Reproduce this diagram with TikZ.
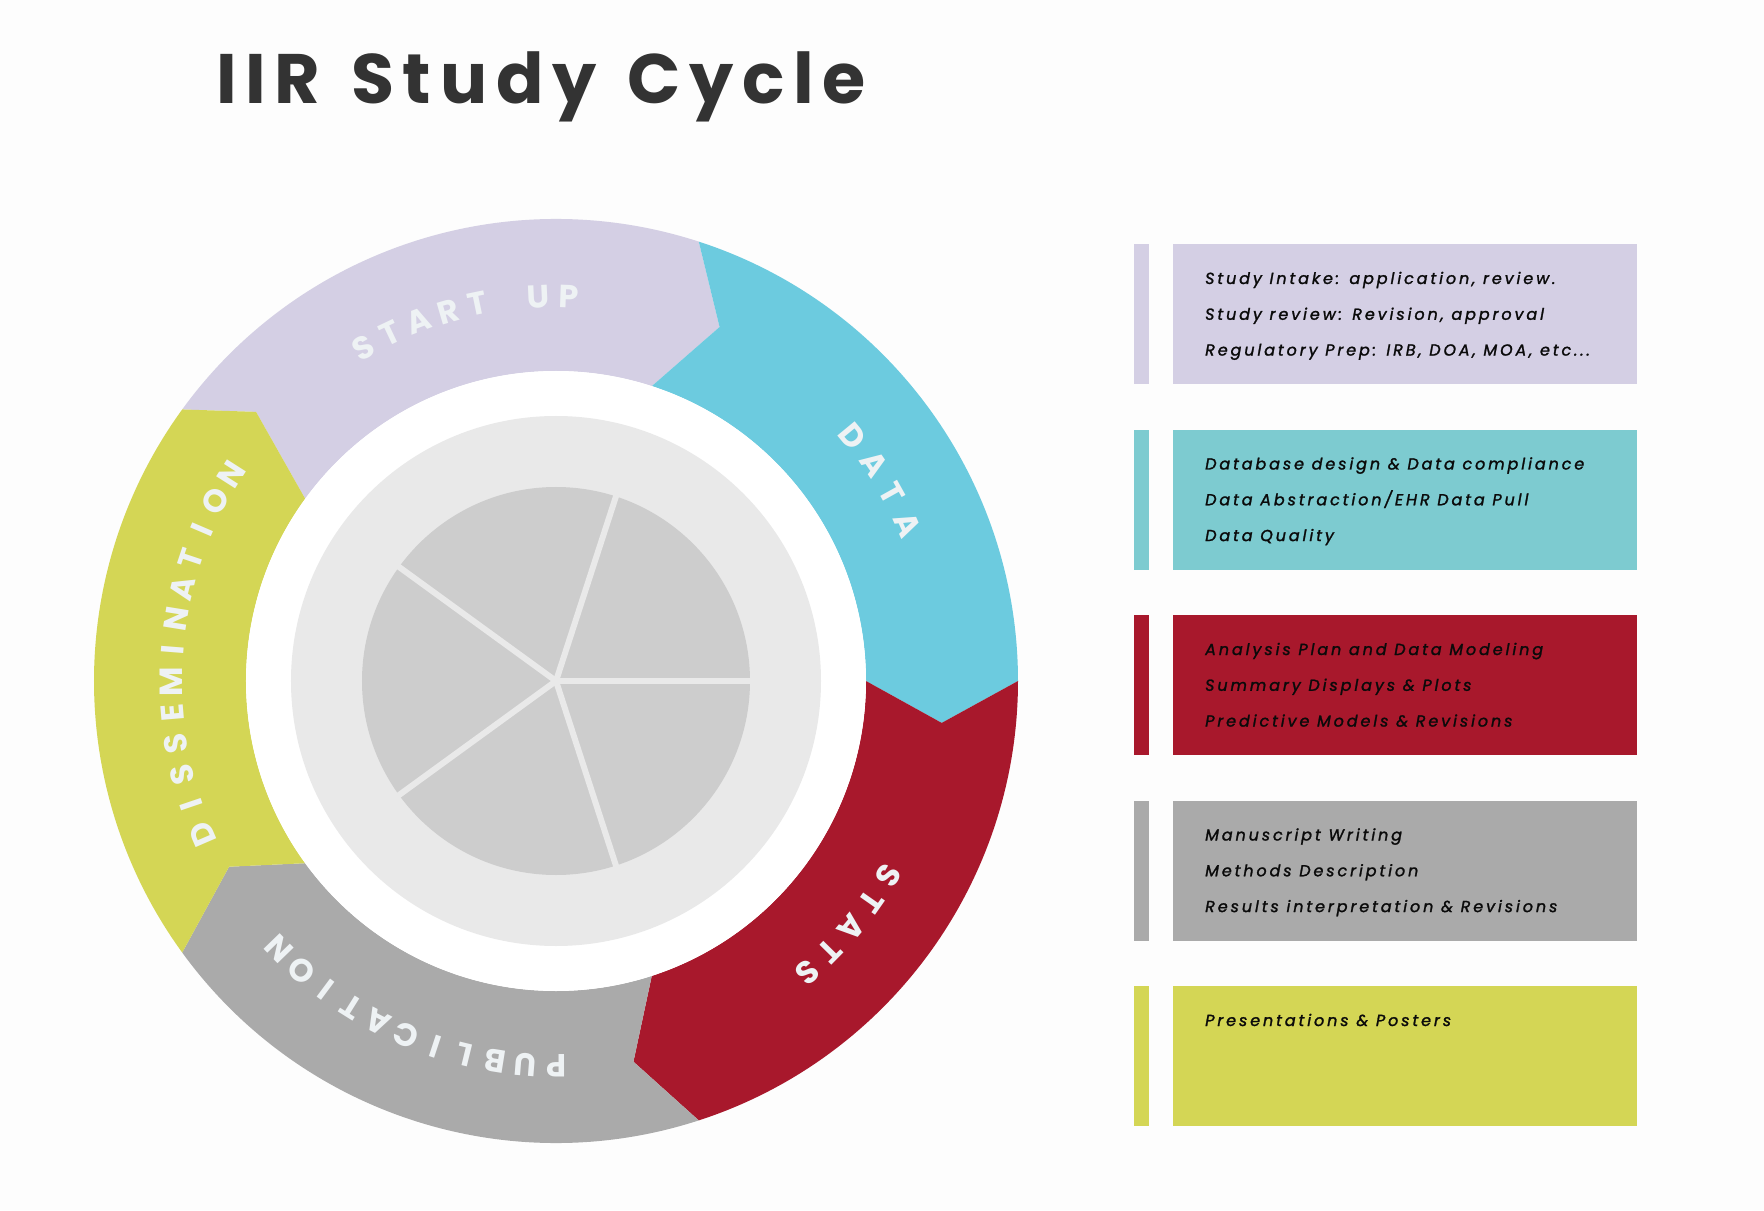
\documentclass[tikz,border=0pt]{standalone}
\usepackage{fontspec}
\setmainfont{Poppins}
\newfontfamily\titlefont[LetterSpace=12.5]{Poppins}
\newfontfamily\itemfont[LetterSpace=18, FakeBold=1.5]{Poppins}
\newfontfamily\ringfont{Poppins}
\usetikzlibrary{positioning}
\definecolor{bgc}{HTML}{FDFDFD}
\definecolor{startc}{HTML}{D4CFE4}
\definecolor{datac}{HTML}{6CCBDF}
\definecolor{datab}{HTML}{7DCBD0}
\definecolor{statsc}{HTML}{A8182C}
\definecolor{pubc}{HTML}{AAAAAA}
\definecolor{dissc}{HTML}{D4D655}
\definecolor{discc}{HTML}{E9E9E9}
\definecolor{piec}{HTML}{CDCDCD}
\definecolor{titlec}{HTML}{333333}
\definecolor{letterc}{HTML}{EEF2F4}
\definecolor{itemc}{HTML}{0A0A0A}
% one letter per node, placed clockwise round the ring
\newcommand{\ringlabel}[4]{%
  \foreach \ch [count=\k] in {#4}
    \node[ringtxt, rotate={#2-(\k-1)*#3-90}] (#1-\k) at ({#2-(\k-1)*#3}:385) {\ch};}

\begin{document}
\begin{tikzpicture}[x=1pt, y=1pt,
  ringtxt/.style={font=\ringfont\bfseries\fontsize{32}{32}\selectfont, text=letterc, inner sep=0pt},
  panel/.style={anchor=north west, inner sep=0pt, minimum width=464, minimum height=140},
  strip/.style={anchor=north west, inner sep=0pt, minimum width=15, minimum height=140},
  item/.style={anchor=base west, inner sep=0pt, text=itemc, font=\itemfont\itshape\fontsize{16}{19}\selectfont}]
\fill[bgc] (-556,-529) rectangle (1208,681);
\useasboundingbox (-556,-529) rectangle (1208,681);
\node[anchor=base west, inner sep=0pt, text=titlec, font=\titlefont\bfseries\fontsize{70}{80}\selectfont] (title) at (-340,577.7) {IIR\hspace{7pt} Study\hspace{7pt} Cycle};
% ring
\foreach \col/\T/\ta/\tr/\ha/\hr in {startc/144/138.1/403/65.2/390, datac/72/65.2/390/-6.2/388,
    statsc/0/-6.2/388/-78.5/388.5, pubc/-72/-78.5/388.5/-150.4/376, dissc/216/209.6/376/138.1/403}
  \fill[\col] (\T:462) arc[start angle=\T, end angle=\T-72, radius=462] -- (\ha:\hr)
    -- ({\T-72}:310) arc[start angle=\T-72, end angle=\T, radius=310] -- (\ta:\tr) -- cycle;
\fill[white] (0,0) circle (310);
\fill[discc] (0,0) circle (265);
\fill[piec] (0,0) circle (194);
\foreach \a in {0,72,...,288}
  \draw[discc, line width=6] (0,0) -- (\a:197);
\ringlabel{start}{120}{4.57}{S,T,A,R,T,{},U,P}
\ringlabel{data}{39.5}{5.2}{D,A,T,A}
\ringlabel{stats}{-30.3}{4.75}{S,T,A,T,S}
\ringlabel{pub}{-89.9}{4.6}{P,U,B,L,I,C,A,T,I,O,N}
\ringlabel{diss}{203.4}{4.66}{D,I,S,S,E,M,I,N,A,T,I,O,N}
% legend boxes
\foreach \col [count=\i from 0] in {startc, datab, statsc, pubc, dissc} {
  \node[strip, fill=\col] (bar\i) at (578,437-185.5*\i) {};
  \node[panel, fill=\col] (box\i) at (617,437-185.5*\i) {};
}
\node[item] (intake) at ([shift={(32,-40)}]box0.north west) {Study Intake: application, review.};
\node[item] (review) at ([yshift=-35.8]intake.base west) {Study review: Revision, approval};
\node[item] (regprep) at ([yshift=-35.8]review.base west) {Regulatory Prep: IRB, DOA, MOA, etc...};
\node[item] (dbdesign) at ([shift={(32,-40)}]box1.north west) {Database design \& Data compliance};
\node[item] (abstr) at ([yshift=-35.8]dbdesign.base west) {Data Abstraction/EHR Data Pull};
\node[item] (quality) at ([yshift=-35.8]abstr.base west) {Data Quality};
\node[item] (plan) at ([shift={(32,-40)}]box2.north west) {Analysis Plan and Data Modeling};
\node[item] (displays) at ([yshift=-35.8]plan.base west) {Summary Displays \& Plots};
\node[item] (models) at ([yshift=-35.8]displays.base west) {Predictive Models \& Revisions};
\node[item] (manuscript) at ([shift={(32,-40)}]box3.north west) {Manuscript Writing};
\node[item] (methods) at ([yshift=-35.8]manuscript.base west) {Methods Description};
\node[item] (results) at ([yshift=-35.8]methods.base west) {Results interpretation \& Revisions};
\node[item] (posters) at ([shift={(32,-40)}]box4.north west) {Presentations \& Posters};
\end{tikzpicture}
\end{document}
